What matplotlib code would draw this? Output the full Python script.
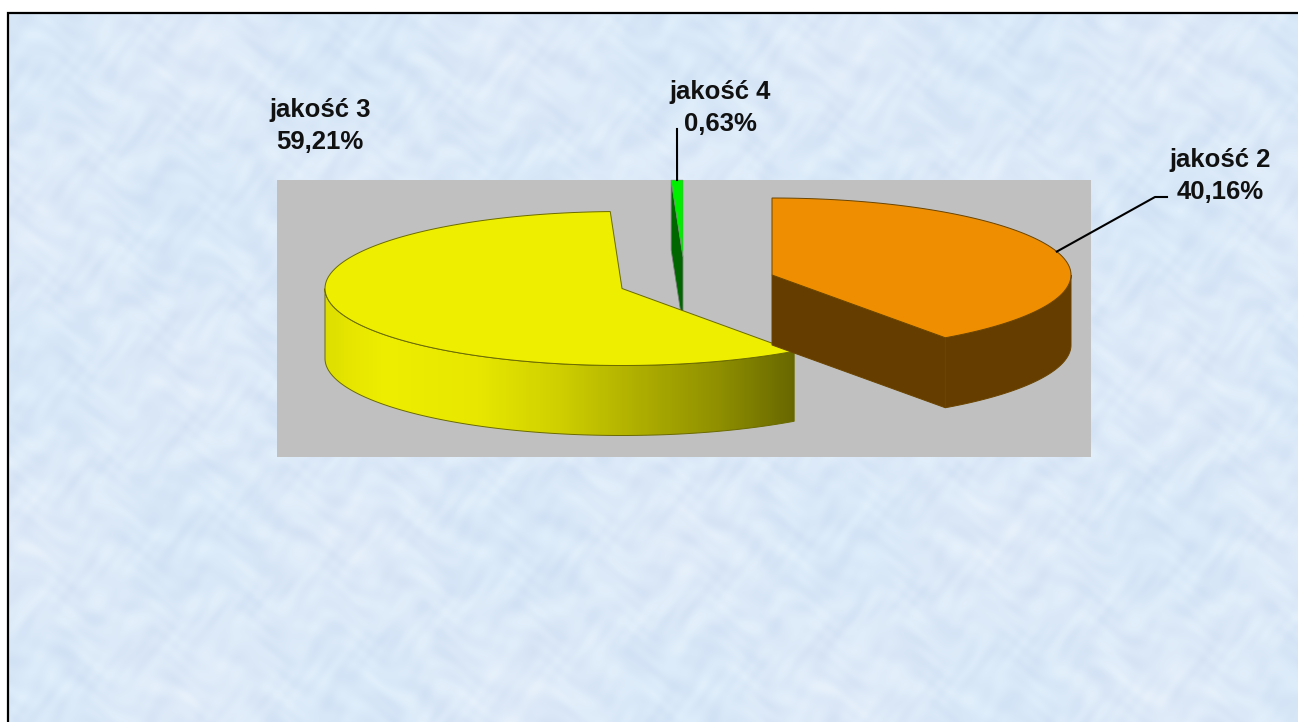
import numpy as np
import matplotlib
matplotlib.use('Agg')
import matplotlib.pyplot as plt
from matplotlib.patches import Polygon, Rectangle

# Chart data
categories = ['jakość 2', 'jakość 3', 'jakość 4']
shares = [40.16, 59.21, 0.63]

# Look of the slices (same order as categories)
top_colors = ['#EE8E00', '#EEEE00', '#00EE00']
side_colors = ['#663D00', '#666600', '#006600']
edge_colors = ['#6A4400', '#6A6A00', '#1A4A1A']
centers = [(772, 275), (622, 288.5), (683, 257)]
radii_x = [299, 297, 300]
label_pos = [(1220, 176), (320, 126), (720, 108)]
leader_elbows = [[(1167, 197), (1155, 197)], None, [(677, 129)]]

RY, DEPTH = 77, 70
plt.rcParams['font.family'] = ['Liberation Sans', 'DejaVu Sans']


def rim(i, deg):
    # deg runs clockwise from 12 o'clock, y axis points down
    a = np.radians(deg)
    return centers[i][0] + radii_x[i] * np.sin(a), centers[i][1] - RY * np.cos(a)


def arc(i, start, stop):
    d = np.linspace(start, stop, 200)
    x, y = rim(i, d)
    return np.column_stack([x, y])


fig = plt.figure(figsize=(12.98, 7.22), dpi=100, facecolor='white')
ax = fig.add_axes([0, 0, 1, 1])

# Paper-like background, built from a few warped waves
xx, yy = np.meshgrid(np.arange(8, 1298), np.arange(13, 722))
tex = (np.sin(xx * 0.083 + 4 * np.sin(yy * 0.041) + 2 * np.sin(xx * 0.017))
       + np.sin(yy * 0.097 + 4 * np.sin(xx * 0.037) + 2 * np.sin(yy * 0.013))
       + 0.6 * np.sin(xx * 0.23 + 5 * np.sin(yy * 0.061 + xx * 0.029))
       + 0.6 * np.sin(yy * 0.27 + 5 * np.sin(xx * 0.067 - yy * 0.023)))
tile = np.sin(2 * np.pi * xx / 325 + 1.0) * np.sin(2 * np.pi * yy / 325 + 0.6)
bg = np.dstack([219 + 2.6 * tex - 3 * tile, 233 + 2.2 * tex - 1 * tile, 248 + 1.0 * tex])
ax.imshow(np.clip(bg, 0, 255).astype(np.uint8), extent=[8, 1298, 722, 13], aspect='auto',
          interpolation='bilinear', zorder=0)
ax.plot([8, 8, 1298], [722, 13, 13], color='black', lw=1.6, zorder=1, solid_joinstyle='miter')

# Grey plot area
ax.add_patch(Rectangle((277, 180), 814, 277, facecolor='#C0C0C0', edgecolor='none', zorder=1))

# Slice angles from the values
stops = np.cumsum([0] + shares) * 3.6
z = 2
for i in [2, 1, 0]:
    c = centers[i]
    start, stop = stops[i], stops[i + 1]
    top = np.vstack([[c], arc(i, start, stop)])
    # Wall around the front of the rim
    lo, hi = max(start, 90), min(stop, 270)
    wall = None
    if lo < hi:
        a = arc(i, lo, hi)
        wall = np.vstack([a, (a + [0, DEPTH])[::-1]])
    if i == 0:
        # Front cut face of the orange slice
        p = np.array(rim(i, stop))
        face = [c, p, p + [0, DEPTH], (c[0], c[1] + DEPTH)]
        ax.add_patch(Polygon(face, closed=True, facecolor=side_colors[i], edgecolor=edge_colors[i],
                             lw=0.7, zorder=z))
    if i == 2:
        # Left cut face of the thin slice
        p = np.array(rim(i, start))
        face = [c, p, p + [0, DEPTH], (c[0], c[1] + DEPTH)]
        ax.add_patch(Polygon(face, closed=True, facecolor=side_colors[i], edgecolor='#808080',
                             lw=0.6, zorder=z))
    if wall is not None:
        if i == 1:
            # Yellow wall has a light to dark gradient across it
            gx = np.arange(wall[:, 0].min(), wall[:, 0].max() + 1)
            g = np.interp(gx, [325, 345, 385, 480, 560, 640, 720, 796], [0.93, 0.96, 1.0, 0.97, 0.87, 0.73, 0.6, 0.43])
            rgb = np.dstack([g * 238, g * 238, np.zeros_like(g)]).astype(np.uint8)
            im = ax.imshow(rgb, extent=[gx[0], gx[-1], wall[:, 1].max(), wall[:, 1].min()], aspect='auto', zorder=z)
            patch = Polygon(wall, closed=True, transform=ax.transData, facecolor='none', edgecolor=edge_colors[i],
                            lw=0.7, zorder=z + 0.1)
            ax.add_patch(patch)
            im.set_clip_path(patch)
        else:
            ax.add_patch(Polygon(wall, closed=True, facecolor=side_colors[i], edgecolor=edge_colors[i],
                                 lw=0.7, zorder=z))
    ax.add_patch(Polygon(top, closed=True, facecolor=top_colors[i],
                         edgecolor='#808080' if i == 2 else edge_colors[i], lw=0.7 if i != 2 else 0.3, zorder=z + 0.2))
    z += 1

# Labels and leader lines
for i, name in enumerate(categories):
    text = name + '\n' + f'{shares[i]:.2f}'.replace('.', ',') + '%'
    ax.text(label_pos[i][0], label_pos[i][1], text, ha='center', va='center', fontsize=18.5,
            fontweight='bold', color='#111111', linespacing=1.42, zorder=10)
    if leader_elbows[i] is not None:
        end = rim(i, (stops[i] + stops[i + 1]) / 2)
        pts = leader_elbows[i] + [end]
        ax.plot([p[0] for p in pts], [p[1] for p in pts], color='black', lw=1.5, zorder=9)

ax.set_xlim(0, 1298)
ax.set_ylim(722, 0)
ax.axis('off')

fig.savefig('out.png', dpi=100, facecolor='white')
